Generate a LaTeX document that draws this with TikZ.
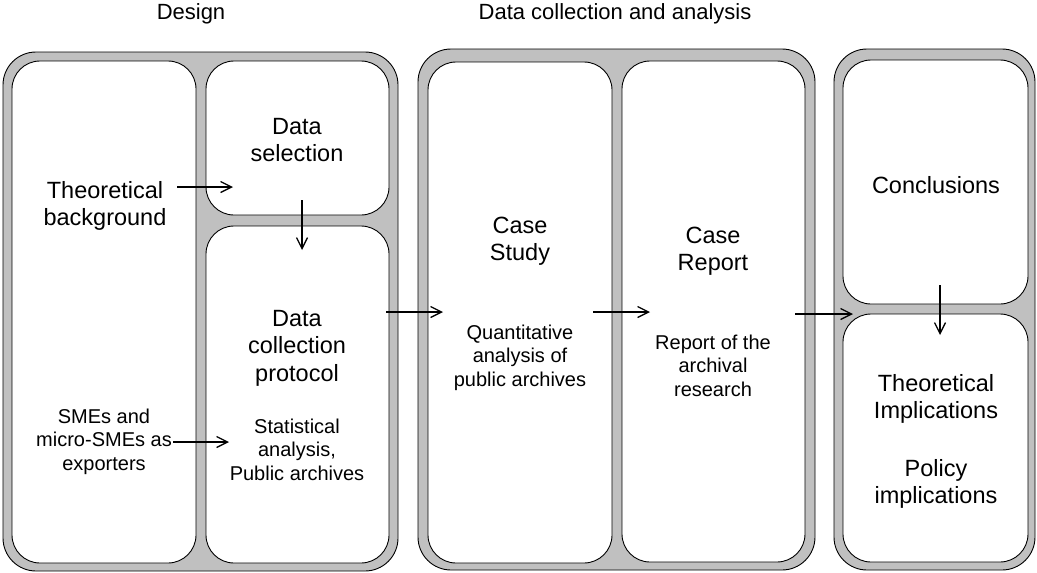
\documentclass[tikz,border=0pt]{standalone}
\usepackage{fontspec}
\setmainfont{Liberation Sans}
\usetikzlibrary{arrows.meta}
\definecolor{panelgrey}{HTML}{C0C0C0}
\newcommand\mlines[1]{\begin{tabular}[t]{@{}c@{}}#1\end{tabular}}
\tikzset{
  outerbox/.style={draw=black, line width=0.9pt, fill=panelgrey, rounded corners=33pt},
  innerbox/.style={draw=black, line width=0.9pt, fill=white, rounded corners=28pt},
  bigtext/.style={anchor=base, inner sep=0pt, font=\fontsize{23.5}{27.5}\selectfont},
  smalltext/.style={anchor=base, inner sep=0pt, font=\fontsize{20}{23.7}\selectfont},
  headtext/.style={anchor=base, inner sep=0pt, font=\fontsize{22}{26}\selectfont},
  flow/.style={line width=1.3pt, -{Straight Barb[length=11pt,width=11pt,line width=1.3pt]}}
}
\begin{document}
\begin{tikzpicture}[x=1pt,y=-1pt]
\useasboundingbox (0,0) rectangle (1037,573);
% headers
\node[headtext] (hdesign) at (191,19) {Design};
\node[headtext] (hdata) at (615,19) {Data collection and analysis};
% panel 1
\draw[outerbox] (3,52) rectangle (398,571);
\draw[innerbox] (12,61) rectangle (196,563);
\draw[innerbox] (206,61) rectangle (389,215);
\draw[innerbox] (206,226) rectangle (389,563);
% panel 2
\draw[outerbox] (418,49) rectangle (815,570);
\draw[innerbox] (428,62) rectangle (612,563);
\draw[innerbox] (622,61) rectangle (805,562);
% panel 3
\draw[outerbox] (834,49) rectangle (1035,570);
\draw[innerbox] (843,60) rectangle (1028,304);
\draw[innerbox] (843,314) rectangle (1028,562);
% texts
\node[bigtext] (theo) at (105,198) {\mlines{Theoretical\\background}};
\node[bigtext] (dsel) at (297,134) {\mlines{Data\\selection}};
\node[bigtext] (dcp) at (297,326) {\mlines{Data\\collection\\protocol}};
\node[smalltext] (stat) at (297,433) {\mlines{Statistical\\analysis,\\Public archives}};
\node[smalltext] (smes) at (104,423) {\mlines{SMEs and\\micro-SMEs as\\exporters}};
\node[bigtext] (cstudy) at (520,233) {\mlines{Case\\Study}};
\node[smalltext] (quant) at (520,339) {\mlines{Quantitative\\analysis of\\public archives}};
\node[bigtext] (creport) at (713,243) {\mlines{Case\\Report}};
\node[smalltext] (rep) at (713,349) {\mlines{Report of the\\archival\\research}};
\node[bigtext] (concl) at (936,193) {Conclusions};
\node[bigtext] (timpl) at (936,391) {\mlines{Theoretical\\Implications}};
\node[bigtext] (pimpl) at (936,476) {\mlines{Policy\\implications}};
% arrow ends
\coordinate (a1s) at (177,187); \coordinate (a1e) at (233,187);
\coordinate (a2s) at (302,200); \coordinate (a2e) at (302,250);
\coordinate (a3s) at (173,442); \coordinate (a3e) at (229,442);
\coordinate (a4s) at (386,312); \coordinate (a4e) at (443,312);
\coordinate (a5s) at (593,312); \coordinate (a5e) at (650,312);
\coordinate (a6s) at (795,314); \coordinate (a6e) at (853,314);
\coordinate (a7s) at (940,285); \coordinate (a7e) at (940,335);
\draw[flow] (a1s) -- (a1e);
\draw[flow] (a2s) -- (a2e);
\draw[flow] (a3s) -- (a3e);
\draw[flow] (a4s) -- (a4e);
\draw[flow] (a5s) -- (a5e);
\draw[flow] (a6s) -- (a6e);
\draw[flow] (a7s) -- (a7e);
\end{tikzpicture}
\end{document}
